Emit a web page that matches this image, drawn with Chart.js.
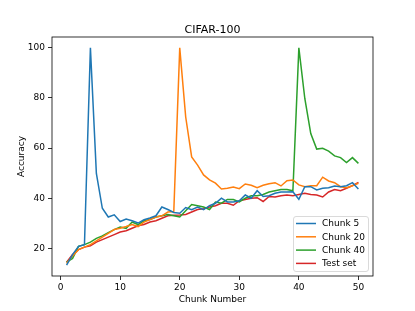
<!DOCTYPE html>
<html>
<head>
<meta charset="utf-8">
<script src="https://cdn.jsdelivr.net/npm/chart.js@4"></script>
<style>
html,body{margin:0;padding:0;background:#fff;}
#wrap{width:415px;height:311px;position:relative;}
</style>
</head>
<body>
<div id="wrap"><canvas id="c" width="415" height="311"></canvas></div>
<script>
const chunks = [1,2,3,4,5,6,7,8,9,10,11,12,13,14,15,16,17,18,19,20,21,22,23,24,25,26,27,28,29,30,31,32,33,34,35,36,37,38,39,40,41,42,43,44,45,46,47,48,49,50];
const chunk5 = [13.3,17.5,20.8,21.5,100,49.9,36,32.5,33.4,30.7,31.7,31,30.1,31.4,32.1,33,36.5,35.5,34.3,34,36.3,35.4,36.5,35.4,37,38,40,38.5,38.5,39,41.3,40,43,40.7,41,42,42.5,42.5,42.6,39.6,44.6,44.6,43.3,44,44.2,44.9,44.6,45,46.2,43.7];
const chunk20 = [14,17,19.5,20.5,21.5,23,24.5,26,27.5,28,28.7,29.5,28.7,30.5,31.5,32.5,33,34.5,34.7,100,72.4,56.5,53.2,49.3,47.3,46,43.7,44,44.5,43.8,45.7,45.2,44.2,45.2,45.8,46.2,44.9,47,47.3,45.3,44.6,45,45,48.4,46.9,46.2,44.6,44.2,45,46];
const chunk40 = [14.5,16,20.8,21.5,22.5,24,25,26.3,27.5,28.5,28,30.5,29.5,31,31.5,32.5,33,33.5,33,32.5,35,37.5,37,36.5,35.5,38.5,38,39.5,39.5,38.5,40,41,41,41.5,42.5,43,43.5,43.5,43,100,79.8,65.8,59.6,59.9,58.8,56.9,56.2,54.2,56.2,53.9];
const testSet = [14.5,17.5,19.5,20.5,21,22.5,23.5,24.5,25.5,26.5,27,28,29,29.5,30.5,31,32,33,33.2,33.3,33.5,34.5,35.5,35.8,36.5,37,38,38,37.2,39,39.5,40,40.2,38.7,40.7,40.5,41,41.3,41,41.5,42,41.5,41.3,40.5,42.5,43.5,43,44,45,46.3];
const xTicks = [0,10,20,30,40,50];
const yTicks = [20,40,60,80,100];
const seriesNames = ['Chunk 5','Chunk 20','Chunk 40','Test set'];
const seriesColors = ['#1f77b4','#ff7f0e','#2ca02c','#d62728'];
const titleText = 'CIFAR-100';
const xLabel = 'Chunk Number';
const yLabel = 'Accuracy';

const FONT = "'DejaVu Sans', sans-serif";
const allSeries = [chunk5, chunk20, chunk40, testSet];

const datasets = allSeries.map((s, i) => ({
  label: seriesNames[i],
  data: s.map((v, j) => ({x: chunks[j], y: v})),
  borderColor: seriesColors[i],
  backgroundColor: seriesColors[i],
  borderWidth: 1.5,
  pointRadius: 0,
  tension: 0,
  fill: false
}));

const boxPlugin = {
  id: 'boxPlugin',
  afterDraw(chart) {
    const ctx = chart.ctx;
    const a = chart.chartArea;
    ctx.save();
    ctx.strokeStyle = '#000';
    ctx.lineWidth = 0.8;
    ctx.strokeRect(a.left, a.top, a.right - a.left, a.bottom - a.top);
    ctx.fillStyle = '#000';
    ctx.font = '11px ' + FONT;
    ctx.textAlign = 'center';
    ctx.textBaseline = 'middle';
    ctx.fillText(titleText, (a.left + a.right) / 2, 30);
    const lx = 293.5, ly = 216.5, lw = 75, lh = 55, r = 2.5;
    ctx.beginPath();
    ctx.moveTo(lx + r, ly);
    ctx.lineTo(lx + lw - r, ly);
    ctx.quadraticCurveTo(lx + lw, ly, lx + lw, ly + r);
    ctx.lineTo(lx + lw, ly + lh - r);
    ctx.quadraticCurveTo(lx + lw, ly + lh, lx + lw - r, ly + lh);
    ctx.lineTo(lx + r, ly + lh);
    ctx.quadraticCurveTo(lx, ly + lh, lx, ly + lh - r);
    ctx.lineTo(lx, ly + r);
    ctx.quadraticCurveTo(lx, ly, lx + r, ly);
    ctx.closePath();
    ctx.fillStyle = 'rgba(255,255,255,0.8)';
    ctx.fill();
    ctx.strokeStyle = '#d0d0d0';
    ctx.lineWidth = 0.8;
    ctx.stroke();
    ctx.font = '9px ' + FONT;
    ctx.textAlign = 'left';
    ctx.textBaseline = 'middle';
    chart.data.datasets.forEach((ds, i) => {
      const yy = 223.5 + i * 13.3;
      ctx.strokeStyle = ds.borderColor;
      ctx.lineWidth = 1.5;
      ctx.beginPath();
      ctx.moveTo(296, yy);
      ctx.lineTo(316, yy);
      ctx.stroke();
      ctx.fillStyle = '#000';
      ctx.fillText(ds.label, 322, yy + 0.5);
    });
    ctx.restore();
  }
};

new Chart(document.getElementById('c'), {
  type: 'line',
  data: { datasets },
  options: {
    responsive: false,
    animation: false,
    devicePixelRatio: 1,
    layout: { padding: { top: 37, right: 42, bottom: 0, left: 0 } },
    plugins: {
      legend: { display: false },
      title: { display: false },
      tooltip: { enabled: false }
    },
    scales: {
      x: {
        type: 'linear',
        min: -1.45,
        max: 52.45,
        afterBuildTicks: s => { s.ticks = xTicks.map(v => ({value: v})); },
        afterFit: s => { s.height = 35; },
        grid: { drawOnChartArea: false, drawTicks: true, tickLength: 4, color: '#000', lineWidth: 0.8 },
        border: { display: false },
        ticks: { color: '#000', font: { family: FONT, size: 9 }, padding: 2, maxRotation: 0 },
        title: { display: true, text: xLabel, color: '#000', font: { family: FONT, size: 9 }, padding: { top: 0, bottom: 6 } }
      },
      y: {
        type: 'linear',
        min: 8.97,
        max: 104.33,
        afterBuildTicks: s => { s.ticks = yTicks.map(v => ({value: v})); },
        afterFit: s => { s.width = 52; },
        grid: { drawOnChartArea: false, drawTicks: true, tickLength: 4, color: '#000', lineWidth: 0.8 },
        border: { display: false },
        ticks: { color: '#000', font: { family: FONT, size: 9 }, padding: 3 },
        title: { display: true, text: yLabel, color: '#000', font: { family: FONT, size: 9 }, padding: { top: 16.5, bottom: 0 } }
      }
    }
  },
  plugins: [boxPlugin]
});
</script>
</body>
</html>
